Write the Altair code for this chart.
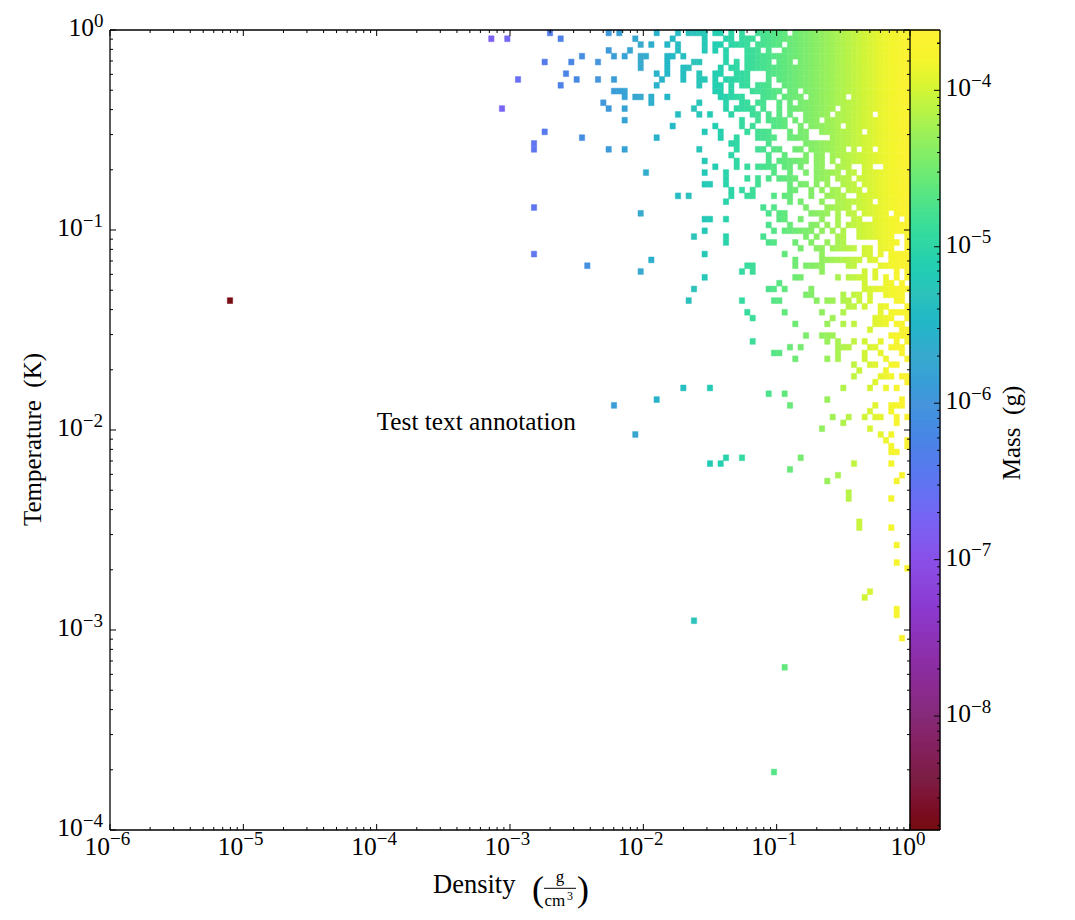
import altair as alt
import numpy as np
import pandas as pd

FONT = "Liberation Serif"

# occupied density columns for every temperature row (row number: columns, a-b is a run)
OCCUPIED = {
 0: "82 93 95 102 106 108-111 113 114 116 118 121-126 128-149",
 1: "71 74 84 98 105 111 115 116 118-120 122-149",
 2: "99 101 104 106 111 113 114 116-119 121-125 127-149",
 3: "93 97 106 111 113 115 119-121 123 126-149",
 4: "88 94 96 99 100 104 105 107 115 119-149",
 5: "81 86 91 99 104 109 110 115 117 119-123 125-127 129-149",
 6: "99 104 107 108 114 116 117 119-149",
 7: "85 102 104 107 110 113 114 117-119 123-149",
 8: "76 87 91 94 103 107 110 111 113 115-119 123 125-149",
 9: "84 102 110 113 114 116 118 119 121-123 126-149",
 10: "94-96 113 114 116 120-125 127 128 130-149",
 11: "96 98 99 101 104 114-118 122-124 126-129 131-137 139-149",
 12: "92 101 110 115 118 119 121 122 125 127 129-149",
 13: "73 93 96 109 115 117-120 122 125 127-135 137-149",
 14: "106 110 112 116 120 121 123 125 127 130-134 136-142 144-149",
 15: "96 118 121 123-126 128 130-132 134-149",
 16: "105 113 118 120 124-126 129 131-136 138-149",
 17: "81 111 114 119 121-123 127 129 130 133-140 142-149",
 18: "88 102 114 117 121-124 127-130 135-149",
 19: "79 116 117 123 130-149",
 20: "79 93 96 110 117 121 122 124 125 128 129 131-137 139 141 142 144-149",
 21: "116 123 126 130 132 133 135-149",
 22: "111 117 123 125-130 132 133 135 137-149",
 23: "113 117 119 121-124 126 127 129 132 133 136-138 141 142 145-149",
 24: "100 111 115 124 127 130 132-136 138 139 141-149",
 25: "115 119 121 123 125-128 132-134 136-138 140-149",
 26: "111 112 115 121 127 129 130 132 134 137-139 141-149",
 27: "116 118 120 127 128 131 133 135 136 138-140 142-149",
 28: "106 108 116 119 120 124 126 127 131 134-137 140-149",
 29: "115 127 129 133 136-142 144-149",
 30: "79 122 124 130 134-138 140-149",
 31: "99 123 125 126 131-134 136 138 139 141-145 147-149",
 32: "111 112 115 125 126 129 133 136 139 140 143-147 149",
 33: "123 127 131 132 134 136 138-149",
 34: "111 124 126-131 133 135 137 140-149",
 35: "109 115 122 130 132 136 137 140-146 149",
 36: "115 123 124 128 131 134 136 137 144-147 149",
 37: "129 132 133 135-139 141 142 144-146 149",
 38: "79 111 126 133 141 142 144 146-149",
 39: "101 128 133-140 142 143 146-149",
 40: "89 119 120 128 130-133 138 139 144-149",
 41: "99 118 120 133 141 143 147 149",
 42: "111 128 129 136 138-141 143 145 147 149",
 43: "125 141 145 146 148",
 44: "109 123 124 126 131 141-149",
 45: "130 131 137 139 140 142 145-148",
 46: "22 108 118 124 125 132 134 135 137 138 140 142 147 148",
 47: "138 139 141 144 145 149",
 48: "119 126 133 137 144 146-149",
 49: "120 135 143-146 149",
 50: "128 134 137 139 143-145 147 148",
 51: "142 148 149",
 52: "130 133-135 146-149",
 53: "120 134 136 139 141 144 147 149",
 54: "127 129 136-138 142 143 146-148",
 55: "124 125 136 141 144 148",
 56: "128 134 136 141 145 149",
 57: "139 142 143 146 147",
 58: "140 145",
 59: "139 144-146 148 149",
 60: "143 149",
 61: "107 112 137 142 145 147",
 62: "123 126",
 63: "102 134 148",
 64: "94 127 143 146-148",
 65: "142 146",
 66: "135 138 141 143 144 147 149",
 67: "137 147",
 68: "133 142",
 69: "98 144 146",
 70: "145 149",
 71: "146 149",
 72: "146 147",
 73: "115 118 129",
 74: "112 114 139 146",
 75: "127",
 76: "136 148",
 77: "134 147",
 79: "138",
 80: "138 146",
 84: "140",
 85: "140 146",
 88: "147",
 91: "147",
 92: "149",
 96: "142",
 97: "141",
 99: "147",
 100: "147",
 101: "109",
 104: "148",
 109: "126",
 127: "124",
}

COLUMN_MASS = [
 1.56e-7, 1.71e-7, 1.87e-7, 2.05e-7, 2.25e-7, 2.47e-7, 2.71e-7, 2.97e-7, 3.25e-7, 3.57e-7,
 3.91e-7, 4.29e-7, 4.70e-7, 5.15e-7, 5.65e-7, 6.19e-7, 6.79e-7, 7.45e-7, 8.17e-7, 8.95e-7,
 9.82e-7, 1.08e-6, 1.18e-6, 1.29e-6, 1.42e-6, 1.55e-6, 1.70e-6, 1.87e-6, 2.05e-6, 2.25e-6,
 2.46e-6, 2.70e-6, 2.96e-6, 3.25e-6, 3.56e-6, 3.91e-6, 4.28e-6, 4.70e-6, 5.15e-6, 5.65e-6,
 6.19e-6, 6.79e-6, 7.44e-6, 8.16e-6, 8.95e-6, 9.80e-6, 1.07e-5, 1.18e-5, 1.29e-5, 1.41e-5,
 1.55e-5, 1.70e-5, 1.86e-5, 2.04e-5, 2.24e-5, 2.45e-5, 2.69e-5, 2.95e-5, 3.24e-5, 3.55e-5,
 3.89e-5, 4.27e-5, 4.68e-5, 5.13e-5, 5.62e-5, 6.17e-5, 6.76e-5, 7.41e-5, 8.13e-5, 8.91e-5,
 9.77e-5, 1.07e-4, 1.18e-4, 1.29e-4, 1.41e-4, 1.55e-4, 1.70e-4, 1.86e-4, 2.04e-4,
]
FIRST_COLUMN = 71
LONE_CELL_MASS = {22: 2.0e-9}

COLUMN_DEX = 0.04
ROW_DEX = 0.0291

MASS_MIN, MASS_MAX = 1.87e-9, 2.43e-4
CMAP_MASS = [1.87e-9, 4e-9, 1e-8, 2e-8, 5e-8, 1e-7, 2e-7, 5e-7, 1e-6, 2e-6, 5e-6, 1e-5,
             2.5e-5, 5e-5, 1e-4, 1.5e-4, 2.43e-4]
CMAP_HEX = ["#750d0d", "#7c1f45", "#852b7a", "#8c2ea0", "#8c3bd0", "#8a50e8", "#7567f5",
            "#5080e8", "#4795dc", "#3aa9ce", "#2fc2bb", "#2fd6a6", "#62e87c", "#96f05c",
            "#d2f536", "#f2f52d", "#fff133"]

X_DECADES = [-6, -5, -4, -3, -2, -1, 0]
Y_DECADES = [-4, -3, -2, -1, 0]
C_DECADES = [-8, -7, -6, -5, -4]
MINOR = [2, 3, 4, 5, 6, 7, 8, 9]


def sup(e):
    return str(e).replace("-", "\u2212")


rows = []
for r, spec in OCCUPIED.items():
    for part in spec.split():
        a, _, b = part.partition("-")
        for c in range(int(a), int(b or a) + 1):
            m = LONE_CELL_MASS.get(c, COLUMN_MASS[c - FIRST_COLUMN] if c >= FIRST_COLUMN else None)
            rows.append({
                "d0": 10 ** (-6 + c * COLUMN_DEX), "d1": 10 ** (-6 + (c + 1) * COLUMN_DEX),
                "t0": 10 ** (-r * ROW_DEX), "t1": 10 ** (-(r + 1) * ROW_DEX), "mass": m,
            })
cells = pd.DataFrame(rows)

xs = alt.Scale(type="log", domain=[1e-6, 1], range=[0, 800])
ys = alt.Scale(type="log", domain=[1e-4, 1], range=[800, 0])
ms = alt.Scale(type="log", domain=[MASS_MIN, MASS_MAX], range=[800, 0])
cs = alt.Scale(type="log", domain=CMAP_MASS, range=CMAP_HEX)


def ticks(decades, factors):
    return [f * 10.0 ** d for d in decades for f in factors if 10.0 ** d * f <= 1.0001]


x_major = pd.DataFrame({"v": [10.0 ** d for d in X_DECADES]})
x_minor = pd.DataFrame({"v": ticks(X_DECADES[:-1], MINOR)})
y_major = pd.DataFrame({"v": [10.0 ** d for d in Y_DECADES]})
y_minor = pd.DataFrame({"v": ticks(Y_DECADES[:-1], MINOR)})
c_major = pd.DataFrame({"v": [10.0 ** d for d in C_DECADES]})
c_minor = pd.DataFrame({"v": [v for v in ticks([-9] + C_DECADES + [-4], MINOR)
                              if MASS_MIN < v < MASS_MAX]})


def xtick(df, y0, y1):
    return alt.Chart(df).mark_rule(color="black", strokeWidth=1).encode(
        x=alt.X("v:Q", scale=xs, axis=None), y=alt.value(y0), y2=alt.value(y1))


def ytick(df, x0, x1, scale=ys):
    return alt.Chart(df).mark_rule(color="black", strokeWidth=1).encode(
        y=alt.Y("v:Q", scale=scale, axis=None), x=alt.value(x0), x2=alt.value(x1))


def line(x0, y0, x1, y1, w=1.3):
    return alt.Chart().mark_rule(color="black", strokeWidth=w).encode(
        x=alt.value(x0), x2=alt.value(x1), y=alt.value(y0), y2=alt.value(y1))


def label(txt, x, y, size, align="left", angle=0):
    return alt.Chart().mark_text(text=txt, font=FONT, fontSize=size, align=align,
                                 baseline="alphabetic", angle=angle, color="black").encode(
        x=alt.value(x), y=alt.value(y))


TEN, EXP = 25.5, 19

cell_layer = alt.Chart(cells).mark_rect(strokeWidth=0.5).encode(
    x=alt.X("d0:Q", scale=xs, axis=None), x2="d1:Q",
    y=alt.Y("t0:Q", scale=ys, axis=None), y2="t1:Q",
    color=alt.Color("mass:Q", scale=cs, legend=None),
    stroke=alt.Color("mass:Q", scale=cs, legend=None),
)

edges = np.geomspace(MASS_MIN, MASS_MAX, 401)
bar = pd.DataFrame({"m0": edges[:-1], "m1": edges[1:], "mass": np.sqrt(edges[:-1] * edges[1:])})
bar_layer = alt.Chart(bar).mark_rect(strokeWidth=0.8).encode(
    x=alt.value(800), x2=alt.value(830),
    y=alt.Y("m0:Q", scale=ms, axis=None), y2="m1:Q",
    color=alt.Color("mass:Q", scale=cs, legend=None),
    stroke=alt.Color("mass:Q", scale=cs, legend=None),
)

x_lab = pd.DataFrame({"v": [10.0 ** d for d in X_DECADES[:-1]],
                      "e": [sup(d) for d in X_DECADES[:-1]]})
y_lab = pd.DataFrame({"v": [10.0 ** d for d in Y_DECADES[:-1]],
                      "e": [sup(d) for d in Y_DECADES[:-1]]})
c_lab = pd.DataFrame({"v": [10.0 ** d for d in C_DECADES],
                      "e": [sup(d) for d in C_DECADES]})


def xlab(df, dx=0):
    common = dict(font=FONT, baseline="alphabetic", color="black")
    a = alt.Chart(df).mark_text(text="10", fontSize=TEN, align="right", dx=dx, **common).encode(
        x=alt.X("v:Q", scale=xs, axis=None), y=alt.value(825))
    b = alt.Chart(df).mark_text(fontSize=EXP, align="left", dx=dx, **common).encode(
        x=alt.X("v:Q", scale=xs, axis=None), y=alt.value(815), text="e:N")
    return [a, b]


def ylab(df, x0, scale=ys):
    common = dict(font=FONT, baseline="alphabetic", color="black")
    a = alt.Chart(df).mark_text(text="10", fontSize=TEN, align="right", dy=6, **common).encode(
        y=alt.Y("v:Q", scale=scale, axis=None), x=alt.value(x0))
    b = alt.Chart(df).mark_text(fontSize=EXP, align="left", dy=-3.5, **common).encode(
        y=alt.Y("v:Q", scale=scale, axis=None), x=alt.value(x0), text="e:N")
    return [a, b]


annotation = alt.Chart(pd.DataFrame({"d": [1e-4], "t": [1e-2], "s": ["Test text annotation"]})).mark_text(
    font=FONT, fontSize=25.3, align="left", baseline="alphabetic", color="black").encode(
    x=alt.X("d:Q", scale=xs, axis=None), y=alt.Y("t:Q", scale=ys, axis=None), text="s:N")

x_zero = pd.DataFrame({"v": [1.0], "e": ["0"]})
y_zero = pd.DataFrame({"v": [1.0], "e": ["0"]})

layers = [
    cell_layer, bar_layer,
    xtick(x_major, 800, 794), xtick(x_minor, 800, 797),
    xtick(x_major, 0, 6), xtick(x_minor, 0, 3),
    ytick(y_major, 0, 6), ytick(y_minor, 0, 3),
    ytick(y_major, 800, 794), ytick(y_minor, 800, 797),
    ytick(c_major, 830, 824, ms), ytick(c_minor, 830, 827, ms),
    line(0, 0, 830, 0), line(0, 800, 830, 800), line(0, 0, 0, 800),
    line(800, 0, 800, 800), line(830, 0, 830, 800),
    *xlab(x_lab), *xlab(x_zero, 6),
    *ylab(y_lab, -27.3), *ylab(y_zero, -16),
    *ylab(c_lab, 861, ms),
    annotation,
    label("Density", 323, 862.5, 26.5),
    label("(", 422, 871, 36), label(")", 467, 871, 36),
    label("g", 450, 851.5, 17, "center"),
    line(434, 858.3, 466, 858.3, 1),
    label("cm", 434.5, 876, 17), label("3", 457, 869.5, 12),
    label("Temperature\u00a0\u00a0(K)", -69, 409.5, 25, "center", 270),
    label("Mass\u00a0\u00a0(g)", 910, 403, 25, "center", 270),
]

chart = alt.layer(*layers).resolve_scale(x="independent", y="independent").properties(
    width=830, height=800,
    autosize=alt.AutoSizeParams(type="none"),
    padding={"left": 102, "top": 22, "right": 127, "bottom": 80},
).configure_view(stroke=None)

chart.save("out.html", embed_options={"renderer": "svg", "actions": False})
